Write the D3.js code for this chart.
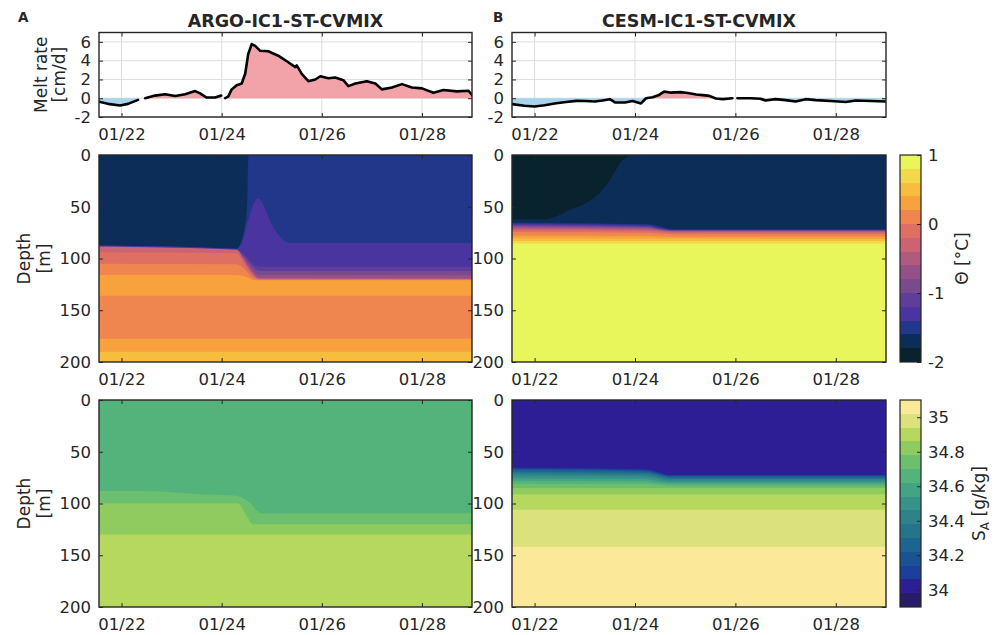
<html>
<head>
<script src="https://cdn.jsdelivr.net/npm/d3@7"></script>
<style>
    body { margin: 0; background: white; }
    svg { font-family: "DejaVu Sans", sans-serif; color: #262626; }
    text { fill: #262626; }
</style>
</head>
<body>
<svg id="figure" width="1007" height="635"></svg>
<script>

// ---------- data (days of January) ----------
const dateTicks = [22, 24, 26, 28]
const meltTicks = [-2, 0, 2, 4, 6]
const depthTicks = [0, 50, 100, 150, 200]

// melt rate [cm/d]; null = gap in the record
const argoMeltTime = [21.53, 21.73, 21.97, 22.13, 22.33, 22.4, 22.47, 22.67, 22.87, 23.07, 23.27, 23.47, 23.57, 23.7, 23.87, 23.99, 24.03,
    24.07, 24.13, 24.2, 24.3, 24.4, 24.47, 24.53, 24.6, 24.67, 24.77, 24.93, 25.13, 25.33, 25.47, 25.5, 25.6, 25.73, 25.87, 25.97,
    26.13, 26.27, 26.43, 26.53, 26.67, 26.9, 27.07, 27.2, 27.4, 27.6, 27.8, 28.0, 28.23, 28.43, 28.7, 28.93, 29.0]
const argoMelt = [-0.35, -0.6, -0.77, -0.6, -0.18, null, 0, 0.28, 0.42, 0.24, 0.42, 0.76, 0.52, 0.07, 0.07, 0.28, null,
    0, 0.17, 0.94, 1.39, 1.57, 2.6, 4.7, 5.76, 5.58, 5.05, 5.0, 4.53, 3.83, 3.31, 3.49, 2.6, 1.81, 1.99, 2.34,
    2.13, 2.2, 1.92, 1.29, 1.57, 1.81, 1.57, 0.94, 1.15, 1.5, 1.15, 1.05, 0.59, 0.87, 0.73, 0.8, 0.35]

const cesmMeltTime = [21.55, 21.8, 22.0, 22.2, 22.43, 22.63, 22.83, 23.0, 23.2, 23.35, 23.5, 23.6, 23.8, 23.95, 24.12, 24.22, 24.35,
    24.48, 24.58, 24.7, 24.9, 25.05, 25.22, 25.4, 25.48, 25.61, 25.75, 25.94, 25.99, 26.04, 26.3, 26.5, 26.6, 26.8, 27.0, 27.2,
    27.4, 27.6, 27.9, 28.2, 28.4, 28.7, 29.0]
const cesmMelt = [-0.63, -0.8, -0.88, -0.75, -0.53, -0.4, -0.28, -0.3, -0.35, -0.25, -0.1, -0.45, -0.45, -0.3, -0.55, 0.0, 0.1,
    0.35, 0.7, 0.6, 0.65, 0.55, 0.4, 0.3, 0.25, -0.03, -0.1, 0.0, null, 0.0, 0.0, -0.05, -0.25, -0.1, -0.2, -0.35,
    -0.1, -0.2, -0.3, -0.4, -0.25, -0.3, -0.35]

// contour levels and colour maps
const thetaLevels = [-2, -1.8, -1.6, -1.4, -1.2, -1, -0.8, -0.6, -0.4, -0.2, 0, 0.2, 0.4, 0.6, 0.8, 1]
const thetaColors = ["#08222e", "#0b2d58", "#22368a", "#4a35a0", "#5f3e9a", "#7a4a8f", "#955088", "#b15a80",
    "#cb6373", "#df6f63", "#ef8650", "#f7a23c", "#f7bd3f", "#f1d94a", "#e8f65b"]
const thetaTicks = [-2, -1, 0, 1]

const saltLevels = [33.9, 33.98, 34.06, 34.14, 34.22, 34.3, 34.38, 34.46, 34.54, 34.62, 34.7, 34.78, 34.86, 34.94, 35.02, 35.1]
const saltColors = ["#2a1b68", "#2d1e95", "#1b3f9b", "#185493", "#1d648f", "#26738c", "#2e828a", "#36928a",
    "#44a285", "#54b37b", "#6cbf6c", "#8fcb5e", "#b6d85f", "#dbe17b", "#fbe898"]
const saltTicks = [34, 34.2, 34.4, 34.6, 34.8, 35]

// layered sections: each layer has a value and the depth [m] of its top edge over time;
// layers fill down to 200 m and are painted in order
const argoTheta = [
    { value: -1.7, t: [21.55, 29], z: [0, 0] },
    { value: -1.5, t: [21.55, 23.0, 24.0, 24.3, 24.4, 24.46, 24.5, 24.52, 24.535, 29], z: [87.5, 88.5, 90, 90.5, 82, 70, 55, 30, 0, 0] },
    { value: -1.3, t: [21.55, 23.0, 24.0, 24.3, 24.4, 24.46, 24.5, 24.55, 24.6, 24.73, 24.85, 24.95, 25.1, 25.25, 25.37, 29],
      z: [87.5, 88.5, 90, 90.5, 86, 76, 68, 60, 52, 42, 50, 62, 75, 83, 85, 85] },
    { value: -1.1, t: [21.55, 24.3, 24.45, 24.6, 24.75, 29], z: [88.5, 91.5, 96, 104, 108, 108] },
    { value: -0.9, t: [21.55, 24.3, 24.45, 24.6, 24.75, 29], z: [89, 92, 98, 107, 112, 112] },
    { value: -0.7, t: [21.55, 24.3, 24.45, 24.6, 24.75, 29], z: [89.5, 92.5, 100, 110, 116, 116] },
    { value: -0.3, t: [21.55, 23.0, 24.3, 24.45, 24.6, 24.75, 29], z: [88.5, 89.5, 91.5, 102, 113, 119, 119.5] },
    { value: -0.1, t: [21.55, 24.3, 24.45, 24.6, 24.75, 29], z: [94, 95, 105, 115, 120, 120] },
    { value: 0.1, t: [21.55, 24.3, 24.45, 24.6, 24.75, 29], z: [105, 105.5, 110, 118, 120.5, 120.5] },
    { value: 0.3, t: [21.55, 24.3, 24.5, 24.65, 29], z: [116, 116, 118, 121, 121] },
    { value: 0.1, t: [21.55, 29], z: [136, 136] },
    { value: 0.3, t: [21.55, 29], z: [177.5, 177.5] },
    { value: 0.5, t: [21.55, 29], z: [190, 190] }
]

const cesmTheta = [
    { value: -1.9, t: [21.55, 29], z: [0, 0] },
    { value: -1.7, t: [21.55, 22.25, 22.45, 22.7, 22.96, 23.29, 23.46, 23.6, 23.72, 23.85, 23.95, 29], z: [62, 62, 59, 53, 48, 37, 27, 16, 6.5, 1.6, 0, 0] },
    { value: -1.5, t: [21.55, 24.25, 24.5, 24.75, 29], z: [65.5, 67, 69, 72, 72] },
    { value: -1.3, t: [21.55, 24.25, 24.5, 24.75, 29], z: [66.5, 68, 70.5, 72.3, 72.3] },
    { value: -1.1, t: [21.55, 24.25, 24.5, 24.75, 29], z: [67.3, 68.8, 71, 72.6, 72.6] },
    { value: -0.9, t: [21.55, 24.25, 24.5, 24.75, 29], z: [68, 69.5, 71.5, 72.9, 72.9] },
    { value: -0.7, t: [21.55, 24.25, 24.5, 24.75, 29], z: [69, 70.3, 72, 73.3, 73.3] },
    { value: -0.5, t: [21.55, 24.25, 24.5, 24.75, 29], z: [70, 71.2, 72.6, 73.7, 73.7] },
    { value: -0.3, t: [21.55, 24.25, 24.5, 24.75, 29], z: [71.2, 72.2, 73.3, 74.2, 74.2] },
    { value: -0.1, t: [21.55, 24.25, 24.5, 24.75, 29], z: [72.6, 73.4, 74.2, 75, 75] },
    { value: 0.1, t: [21.55, 24.25, 24.5, 24.75, 29], z: [74.5, 75, 75.8, 76.5, 76.5] },
    { value: 0.3, t: [21.55, 24.25, 24.5, 24.75, 29], z: [78, 78, 78.5, 79, 79] },
    { value: 0.5, t: [21.55, 29], z: [80.5, 81] },
    { value: 0.7, t: [21.55, 29], z: [83, 83] },
    { value: 0.9, t: [21.55, 29], z: [85.4, 85.4] }
]

const argoSalt = [
    { value: 34.66, t: [21.55, 29], z: [0, 0] },
    { value: 34.74, t: [21.55, 22.45, 23.55, 24.3, 24.53, 24.8, 29], z: [88, 88, 91, 92.5, 98, 109.5, 109.5] },
    { value: 34.82, t: [21.55, 24.33, 24.5, 24.63, 29], z: [100, 100, 112, 120, 120] },
    { value: 34.90, t: [21.55, 29], z: [130, 130] }
]

const cesmSalt = [
    { value: 34.02, t: [21.55, 29], z: [0, 0] },
    { value: 34.10, t: [21.55, 24.2, 24.45, 24.7, 29], z: [65.5, 67, 69.5, 72.5, 72.5] },
    { value: 34.18, t: [21.55, 24.2, 24.45, 24.7, 29], z: [66.5, 68, 70.5, 73.2, 73.2] },
    { value: 34.26, t: [21.55, 24.2, 24.45, 24.7, 29], z: [67.5, 69, 71.5, 74, 74] },
    { value: 34.34, t: [21.55, 24.2, 24.45, 24.7, 29], z: [69, 70.3, 72.5, 75, 75] },
    { value: 34.42, t: [21.55, 24.2, 24.45, 24.7, 29], z: [70.8, 72, 74, 76.3, 76.3] },
    { value: 34.50, t: [21.55, 24.2, 24.45, 24.7, 29], z: [73, 74, 75.8, 77.8, 77.8] },
    { value: 34.58, t: [21.55, 24.2, 24.45, 24.7, 29], z: [75.5, 76.3, 78, 79.5, 79.5] },
    { value: 34.66, t: [21.55, 24.2, 24.45, 24.7, 29], z: [78, 78.5, 80, 81, 81] },
    { value: 34.74, t: [21.55, 24.2, 24.45, 24.7, 29], z: [81, 81, 82, 82.8, 82.8] },
    { value: 34.82, t: [21.55, 29], z: [85, 85] },
    { value: 34.90, t: [21.55, 29], z: [91, 91] },
    { value: 34.98, t: [21.55, 29], z: [106, 106] },
    { value: 35.06, t: [21.55, 29], z: [141.7, 141.7] }
]

// ---------- layout ----------
const cols = { A: { left: 99, right: 472 }, B: { left: 512, right: 886 } }
const rows = { melt: { top: 32.5, bottom: 117 }, theta: { top: 155, bottom: 362 }, salt: { top: 400, bottom: 607 } }
const cbar = { left: 900, right: 921 }
const fontSize = 16.5
const ink = "#262626"

const svg = d3.select("#figure")
const defs = svg.append("defs")

const toDate = d => new Date(Date.UTC(2019, 0, 1) + (d - 1) * 864e5)
const dateFormat = d3.utcFormat("%m/%d")

function xScale(col) {
    return d3.scaleUtc()
        .domain([toDate(21.55), toDate(29)])
        .range([col.left, col.right])
}

function clipFor(id, col, row) {
    defs.append("clipPath").attr("id", id)
        .append("rect")
        .attr("x", col.left).attr("y", row.top)
        .attr("width", col.right - col.left).attr("height", row.bottom - row.top)
    return `url(#${id})`
}

function drawAxes(col, row, x, y, yTicks) {
    let g = svg.append("g")
    let style = a => a.attr("font-size", fontSize).attr("font-family", null)
        .call(s => s.select(".domain").remove())

    g.append("g").attr("transform", `translate(0,${row.bottom})`)
        .call(d3.axisBottom(x).tickValues(dateTicks.map(toDate)).tickFormat(dateFormat)
            .tickSizeInner(-4).tickSizeOuter(0).tickPadding(11))
        .call(style)
    g.append("g").attr("transform", `translate(0,${row.top})`)
        .call(d3.axisTop(x).tickValues(dateTicks.map(toDate)).tickFormat("")
            .tickSizeInner(-4).tickSizeOuter(0))
        .call(style)
    g.append("g").attr("transform", `translate(${col.left},0)`)
        .call(d3.axisLeft(y).tickValues(yTicks).tickFormat(d => String(d))
            .tickSizeInner(-4).tickSizeOuter(0).tickPadding(8))
        .call(style)
    g.append("g").attr("transform", `translate(${col.right},0)`)
        .call(d3.axisRight(y).tickValues(yTicks).tickFormat("")
            .tickSizeInner(-4).tickSizeOuter(0))
        .call(style)

    g.append("rect")
        .attr("x", col.left).attr("y", row.top)
        .attr("width", col.right - col.left).attr("height", row.bottom - row.top)
        .attr("fill", "none").attr("stroke", ink).attr("stroke-width", 1.4)
}

function drawMelt(name, col, times, values) {
    let x = xScale(col)
    let y = d3.scaleLinear().domain([-2, 7]).range([rows.melt.bottom, rows.melt.top])
    let data = times.map((t, i) => ({ t: toDate(t), v: values[i] }))
    let clip = clipFor("clip-melt-" + name, col, rows.melt)

    let grid = svg.append("g").attr("stroke", "#dcdcdc").attr("stroke-width", 1)
    grid.selectAll(".gy").data(meltTicks).join("line")
        .attr("x1", col.left).attr("x2", col.right)
        .attr("y1", d => y(d)).attr("y2", d => y(d))
    grid.selectAll(".gx").data(dateTicks).join("line")
        .attr("x1", d => x(toDate(d))).attr("x2", d => x(toDate(d)))
        .attr("y1", rows.melt.top).attr("y2", rows.melt.bottom)

    let plot = svg.append("g").attr("clip-path", clip)
    let area = d3.area()
        .defined(d => d.v !== null)
        .x(d => x(d.t))
        .y0(y(0))

    plot.append("path").datum(data)
        .attr("d", area.y1(d => y(Math.max(d.v, 0))))
        .attr("fill", "#f2a3a9")
    plot.append("path").datum(data)
        .attr("d", area.y1(d => y(Math.min(d.v, 0))))
        .attr("fill", "#a7d3eb")

    let line = d3.line()
        .defined(d => d.v !== null)
        .x(d => x(d.t))
        .y(d => y(d.v))
    plot.append("path").datum(data)
        .attr("d", line)
        .attr("fill", "none")
        .attr("stroke", "black")
        .attr("stroke-width", 2.6)
        .attr("stroke-linejoin", "round")
        .attr("stroke-linecap", "round")

    drawAxes(col, rows.melt, x, y, meltTicks)
}

function drawSection(name, col, row, layers, levels, colors) {
    let x = xScale(col)
    let y = d3.scaleLinear().domain([0, 200]).range([row.top, row.bottom])
    let color = d3.scaleThreshold().domain(levels.slice(1, -1)).range(colors)
    let clip = clipFor("clip-" + name, col, row)

    let area = d3.area()
        .curve(d3.curveMonotoneX)
        .x(d => x(toDate(d[0])))
        .y0(y(200))
        .y1(d => y(d[1]))

    svg.append("g").attr("clip-path", clip)
        .selectAll("path")
        .data(layers)
        .join("path")
        .attr("d", d => area(d.t.map((t, i) => [t, d.z[i]])))
        .attr("fill", d => color(d.value))

    drawAxes(col, row, x, y, depthTicks)
}

function drawColorbar(row, levels, colors, ticks, label) {
    let y = d3.scaleLinear().domain([levels[0], levels[levels.length - 1]]).range([row.bottom, row.top])
    let g = svg.append("g")

    g.selectAll("rect")
        .data(colors)
        .join("rect")
        .attr("x", cbar.left)
        .attr("width", cbar.right - cbar.left)
        .attr("y", (d, i) => y(levels[i + 1]))
        .attr("height", (d, i) => y(levels[i]) - y(levels[i + 1]))
        .attr("fill", d => d)
        .attr("shape-rendering", "crispEdges")

    g.append("g").attr("transform", `translate(${cbar.right},0)`)
        .call(d3.axisRight(y).tickValues(ticks).tickFormat(d => String(d))
            .tickSizeInner(-4).tickSizeOuter(0).tickPadding(7))
        .attr("font-size", fontSize).attr("font-family", null)
        .call(s => s.select(".domain").remove())

    g.append("rect")
        .attr("x", cbar.left).attr("y", row.top)
        .attr("width", cbar.right - cbar.left).attr("height", row.bottom - row.top)
        .attr("fill", "none").attr("stroke", ink).attr("stroke-width", 1.2)

    label(g, (row.top + row.bottom) / 2)
}

function rotatedLabel(x, y, text) {
    return svg.append("text")
        .attr("transform", `translate(${x},${y}) rotate(-90)`)
        .attr("text-anchor", "middle")
        .attr("font-size", 17)
        .text(text)
}

// ---------- draw ----------
drawMelt("A", cols.A, argoMeltTime, argoMelt)
drawMelt("B", cols.B, cesmMeltTime, cesmMelt)
drawSection("thetaA", cols.A, rows.theta, argoTheta, thetaLevels, thetaColors)
drawSection("thetaB", cols.B, rows.theta, cesmTheta, thetaLevels, thetaColors)
drawSection("saltA", cols.A, rows.salt, argoSalt, saltLevels, saltColors)
drawSection("saltB", cols.B, rows.salt, cesmSalt, saltLevels, saltColors)

drawColorbar(rows.theta, thetaLevels, thetaColors, thetaTicks, (g, cy) => {
    g.append("text")
        .attr("transform", `translate(968,${cy}) rotate(-90)`)
        .attr("text-anchor", "middle")
        .attr("font-size", 17)
        .text("Θ [°C]")
})
drawColorbar(rows.salt, saltLevels, saltColors, saltTicks, (g, cy) => {
    let t = g.append("text")
        .attr("transform", `translate(985,${cy}) rotate(-90)`)
        .attr("text-anchor", "middle")
        .attr("font-size", 17)
    t.append("tspan").text("S")
    t.append("tspan").attr("font-size", 12).attr("dy", 4).text("A")
    t.append("tspan").attr("dy", -4).text(" [g/kg]")
})

// axis titles
let meltMid = (rows.melt.top + rows.melt.bottom) / 2
rotatedLabel(46.5, meltMid, "Melt rate")
rotatedLabel(64.5, meltMid, "[cm/d]")
;[rows.theta, rows.salt].forEach(row => {
    let mid = (row.top + row.bottom) / 2
    rotatedLabel(30, mid, "Depth")
    rotatedLabel(49.5, mid, "[m]")
})

// panel titles
svg.append("text")
    .attr("x", (cols.A.left + cols.A.right) / 2).attr("y", 27)
    .attr("text-anchor", "middle").attr("font-size", 17.5).attr("font-weight", "bold")
    .text("ARGO-IC1-ST-CVMIX")
svg.append("text")
    .attr("x", (cols.B.left + cols.B.right) / 2).attr("y", 27)
    .attr("text-anchor", "middle").attr("font-size", 17.5).attr("font-weight", "bold")
    .text("CESM-IC1-ST-CVMIX")
svg.append("text").attr("x", 18).attr("y", 22)
    .attr("font-size", 13.5).attr("font-weight", "bold").text("A")
svg.append("text").attr("x", 493).attr("y", 22)
    .attr("font-size", 13.5).attr("font-weight", "bold").text("B")

</script>
</body>
</html>
